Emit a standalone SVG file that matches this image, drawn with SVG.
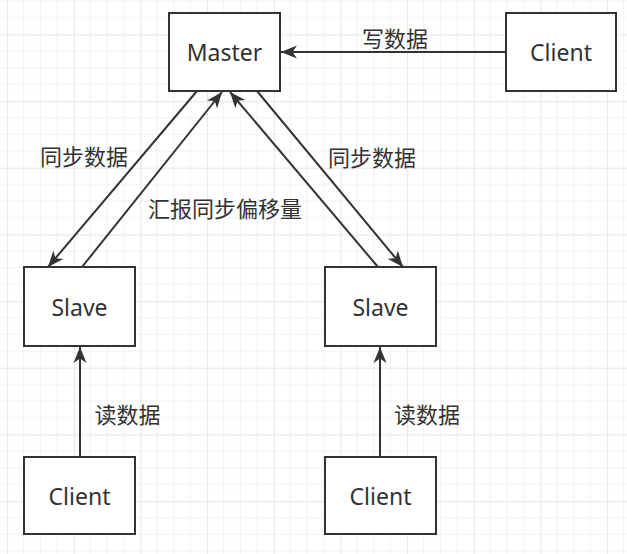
<svg xmlns="http://www.w3.org/2000/svg" width="627" height="554" viewBox="0 0 627 554">
<style>
.box{fill:#ffffff;stroke:#333333;stroke-width:2}
.lbl{font-family:"Noto Sans","Noto Sans CJK SC",sans-serif;font-size:23px;fill:#333333;text-anchor:middle;dominant-baseline:central}
.cn{font-family:"Noto Sans CJK SC","Noto Sans",sans-serif;font-size:22px;fill:#333333;text-anchor:middle;dominant-baseline:central}
.edge{stroke:#333333;stroke-width:2;fill:none;marker-end:url(#arr)}
</style>
<defs>
<marker id="arr" markerUnits="userSpaceOnUse" markerWidth="18" markerHeight="14" refX="16" refY="7" orient="auto">
<path d="M0,0.5 L16,7 L0,13.5 L4.5,7 Z" fill="#333333"/>
</marker>
<pattern id="grid" patternUnits="userSpaceOnUse" x="7" y="34.33" width="66.667" height="66.667">
<path d="M16.667,0V66.667M33.333,0V66.667M50,0V66.667M0,16.667H66.667M0,33.333H66.667M0,50H66.667" stroke="#f2f2f2" stroke-width="1.2" fill="none"/>
<path d="M0.5,0V66.667M0,0.5H66.667" stroke="#e9e9e9" stroke-width="1.4" fill="none"/>
</pattern>
</defs>
<rect width="627" height="554" fill="#ffffff"/>
<rect width="627" height="554" fill="url(#grid)"/>
<g id="connectors">
<line class="edge" x1="506" y1="52" x2="281" y2="52"/>
<line class="edge" x1="197" y1="91" x2="48" y2="267"/>
<line class="edge" x1="82" y1="267" x2="222" y2="92"/>
<line class="edge" x1="378" y1="267" x2="230" y2="92"/>
<line class="edge" x1="257" y1="91" x2="403" y2="267"/>
<line class="edge" x1="80" y1="457" x2="80" y2="347"/>
<line class="edge" x1="380" y1="457" x2="380" y2="347"/>
<text class="cn" x="395" y="37">写数据</text>
<text class="cn" x="84" y="155">同步数据</text>
<text class="cn" x="225" y="207">汇报同步偏移量</text>
<text class="cn" x="372" y="156">同步数据</text>
<text class="cn" x="127.5" y="413">读数据</text>
<text class="cn" x="427" y="413">读数据</text>
</g>
<g id="master"><rect class="box" x="169" y="13" width="111" height="78"/><text class="lbl" x="224.5" y="52">Master</text></g>
<g id="client-top"><rect class="box" x="506" y="13" width="110" height="78"/><text class="lbl" x="561" y="52">Client</text></g>
<g id="slave-left"><rect class="box" x="24" y="267" width="111" height="79"/><text class="lbl" x="79.5" y="306.5">Slave</text></g>
<g id="slave-right"><rect class="box" x="325" y="267" width="111" height="79"/><text class="lbl" x="380.5" y="306.5">Slave</text></g>
<g id="client-left"><rect class="box" x="24" y="457" width="111" height="77"/><text class="lbl" x="79.5" y="495.5">Client</text></g>
<g id="client-right"><rect class="box" x="325" y="457" width="111" height="77"/><text class="lbl" x="380.5" y="495.5">Client</text></g>
</svg>
